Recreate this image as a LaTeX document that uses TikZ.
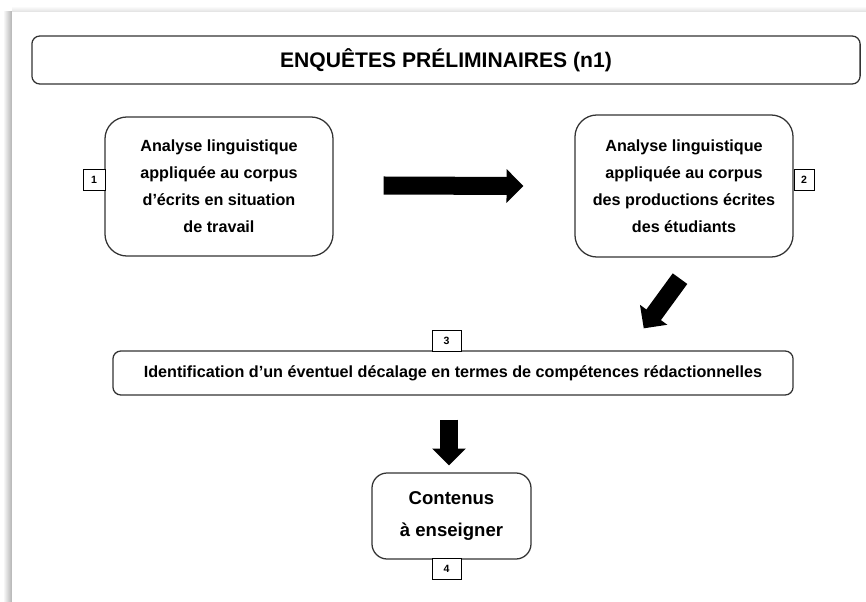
\documentclass[tikz,border=0pt]{standalone}
\usepackage{fontspec}
\setmainfont{Liberation Sans}
\usepackage{tikz}
\usetikzlibrary{positioning, arrows.meta, calc}

\begin{document}
\begin{tikzpicture}[
    x=0.025cm, y=-0.025cm,
    box/.style={rectangle, draw=black!80, line width=0.9pt, rounded corners=0.55cm, align=center, inner sep=0pt,
        font=\fontsize{11.5}{19.2}\selectfont\bfseries},
    titlebox/.style={rectangle, draw=black!80, line width=0.9pt, rounded corners=0.2cm, inner sep=0pt,
        minimum width=20.7cm, minimum height=1.2cm, font=\fontsize{15}{18}\selectfont\bfseries},
    widebox/.style={rectangle, draw=black!80, line width=0.9pt, rounded corners=0.2cm, inner sep=0pt,
        minimum width=17cm, minimum height=1.1cm, font=\fontsize{11.5}{14}\selectfont\bfseries},
    tag/.style={rectangle, draw, line width=0.6pt, fill=white, inner sep=0pt, minimum height=0.525cm,
        font=\fontsize{7.5}{9}\selectfont\bfseries},
    bigarrow/.style={line width=0.45cm, -{Triangle[length=0.42cm, width=0.82cm]}}
]

% page and its shadow
\fill[white] (0,0) rectangle (866,602);
\shade[left color=white, right color=black!30] (3,12) rectangle (12,602);
\shade[top color=white, bottom color=black!12] (12,6) rectangle (866,12);
\fill[white] (12,12) rectangle (866,602);

\node[titlebox] (title) at (446, 60) {ENQUÊTES PRÉLIMINAIRES (n1)};

\node[box, minimum width=5.7cm, minimum height=3.475cm] (corpusA) at (219, 186.5)
    {Analyse linguistique\\appliquée au corpus\\d’écrits en situation\\de travail};
\node[box, minimum width=5.45cm, minimum height=3.55cm] (corpusB) at (684, 186)
    {Analyse linguistique\\appliquée au corpus\\des productions écrites\\des étudiants};

\node[widebox] (ecart) at (453, 373)
    {Identification d’un éventuel décalage en termes de compétences rédactionnelles};

\node[box, rounded corners=0.38cm, minimum width=3.975cm, minimum height=2.15cm,
    font=\fontsize{13.2}{22.8}\selectfont\bfseries] (contenus) at (451.5, 516) {Contenus\\à enseigner};

% numbers
\node[tag, minimum width=0.55cm] (n1) at (94, 179.5) {1};
\node[tag, minimum width=0.5cm] (n2) at (804, 179.5) {2};
\node[tag, minimum width=0.725cm] (n3) at (446.5, 340.5) {3};
\node[tag, minimum width=0.725cm] (n4) at (446.5, 569) {4};

\draw[bigarrow] ($(corpusA.east)+(50,-1)$) -- ($(corpusB.west)+(-51,0)$);
\draw[bigarrow] ($(corpusB.south)+(-4,21)$) -- ($(ecart.north east)+(-150,-22)$);
\draw[bigarrow] ($(ecart.south)+(-4,24)$) -- ($(contenus.north)+(-2.5,-7)$);

\end{tikzpicture}
\end{document}
